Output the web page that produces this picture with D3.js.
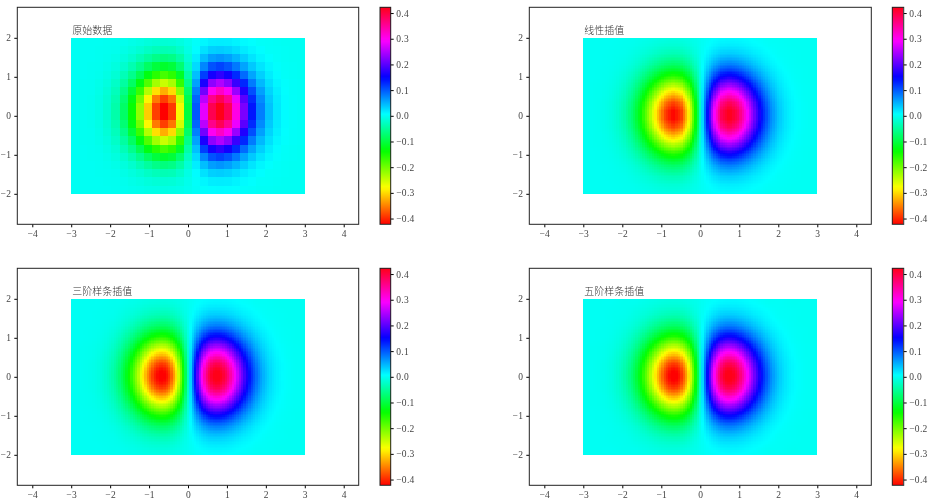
<!DOCTYPE html>
<html>
<head>
<meta charset="utf-8">
<script src="https://cdn.jsdelivr.net/npm/d3@7"></script>
<style>
  html, body { margin: 0; background: #fff; }
  #wrap { position: relative; width: 932px; height: 501px; overflow: hidden; }
  canvas, svg { position: absolute; left: 0; top: 0; }
  .tick text { font-family: "Liberation Serif", serif; font-size: 9.5px; fill: #444; letter-spacing: 0.3px; }
</style>
</head>
<body>
<div id="wrap"><canvas id="cv" width="932" height="501"></canvas><svg id="chart" width="932" height="501"></svg></div>
<script>
const width = 932;
const height = 501;

// Panel titles and the order of the interpolation used for each (0 = raw cells)
const panelTitles = ["原始数据", "线性插值", "三阶样条插值", "五阶样条插值"];
const panelOrders = [0, 1, 3, 5];

const xTicks = [-4, -3, -2, -1, 0, 1, 2, 3, 4];
const yTicks = [-2, -1, 0, 1, 2];
const barTicks = [-0.4, -0.3, -0.2, -0.1, 0, 0.1, 0.2, 0.3, 0.4];

// Grid nodes of the raw data: 30 columns, 20 rows
const xNodes = d3.range(30).map(i => -3 + i * 6 / 29);
const yNodes = d3.range(20).map(j => -2 + j * 4 / 19);

// Raw values, rows from y=-2 up to y=2
const zRaw = [
  [0,0,0,0,0,-.001,-.001,-.003,-.004,-.006,-.007,-.008,-.007,-.005,-.002,.002,.005,.007,.008,.007,.006,.004,.003,.001,.001,0,0,0,0,0],
  [0,0,0,0,-.001,-.002,-.003,-.006,-.009,-.013,-.016,-.017,-.016,-.011,-.004,.004,.011,.016,.017,.016,.013,.009,.006,.003,.002,.001,0,0,0,0],
  [0,0,0,-.001,-.002,-.003,-.007,-.012,-.018,-.026,-.032,-.035,-.033,-.023,-.008,.008,.023,.033,.035,.032,.026,.018,.012,.007,.003,.002,.001,0,0,0],
  [0,0,0,-.001,-.003,-.006,-.012,-.021,-.034,-.048,-.060,-.066,-.061,-.043,-.016,.016,.043,.061,.066,.060,.048,.034,.021,.012,.006,.003,.001,0,0,0],
  [0,0,-.001,-.002,-.005,-.011,-.021,-.037,-.058,-.082,-.102,-.112,-.104,-.074,-.027,.027,.074,.104,.112,.102,.082,.058,.037,.021,.011,.005,.002,.001,0,0],
  [0,0,-.001,-.003,-.008,-.017,-.033,-.057,-.090,-.127,-.159,-.175,-.161,-.115,-.042,.042,.115,.161,.175,.159,.127,.090,.057,.033,.017,.008,.003,.001,0,0],
  [0,-.001,-.002,-.005,-.011,-.024,-.046,-.081,-.128,-.181,-.227,-.249,-.230,-.164,-.059,.059,.164,.230,.249,.227,.181,.128,.081,.046,.024,.011,.005,.002,.001,0],
  [0,-.001,-.002,-.006,-.015,-.031,-.060,-.106,-.167,-.236,-.297,-.325,-.300,-.214,-.078,.078,.214,.300,.325,.297,.236,.167,.106,.060,.031,.015,.006,.002,.001,0],
  [0,-.001,-.003,-.008,-.018,-.037,-.072,-.126,-.200,-.282,-.354,-.388,-.358,-.255,-.093,.093,.255,.358,.388,.354,.282,.200,.126,.072,.037,.018,.008,.003,.001,0],
  [0,-.001,-.003,-.008,-.019,-.041,-.079,-.138,-.218,-.308,-.387,-.424,-.391,-.279,-.101,.101,.279,.391,.424,.387,.308,.218,.138,.079,.041,.019,.008,.003,.001,0],
  [0,-.001,-.003,-.008,-.019,-.041,-.079,-.138,-.218,-.308,-.387,-.424,-.391,-.279,-.101,.101,.279,.391,.424,.387,.308,.218,.138,.079,.041,.019,.008,.003,.001,0],
  [0,-.001,-.003,-.008,-.018,-.037,-.072,-.126,-.200,-.282,-.354,-.388,-.358,-.255,-.093,.093,.255,.358,.388,.354,.282,.200,.126,.072,.037,.018,.008,.003,.001,0],
  [0,-.001,-.002,-.006,-.015,-.031,-.060,-.106,-.167,-.236,-.297,-.325,-.300,-.214,-.078,.078,.214,.300,.325,.297,.236,.167,.106,.060,.031,.015,.006,.002,.001,0],
  [0,-.001,-.002,-.005,-.011,-.024,-.046,-.081,-.128,-.181,-.227,-.249,-.230,-.164,-.059,.059,.164,.230,.249,.227,.181,.128,.081,.046,.024,.011,.005,.002,.001,0],
  [0,0,-.001,-.003,-.008,-.017,-.033,-.057,-.090,-.127,-.159,-.175,-.161,-.115,-.042,.042,.115,.161,.175,.159,.127,.090,.057,.033,.017,.008,.003,.001,0,0],
  [0,0,-.001,-.002,-.005,-.011,-.021,-.037,-.058,-.082,-.102,-.112,-.104,-.074,-.027,.027,.074,.104,.112,.102,.082,.058,.037,.021,.011,.005,.002,.001,0,0],
  [0,0,0,-.001,-.003,-.006,-.012,-.021,-.034,-.048,-.060,-.066,-.061,-.043,-.016,.016,.043,.061,.066,.060,.048,.034,.021,.012,.006,.003,.001,0,0,0],
  [0,0,0,-.001,-.002,-.003,-.007,-.012,-.018,-.026,-.032,-.035,-.033,-.023,-.008,.008,.023,.033,.035,.032,.026,.018,.012,.007,.003,.002,.001,0,0,0],
  [0,0,0,0,-.001,-.002,-.003,-.006,-.009,-.013,-.016,-.017,-.016,-.011,-.004,.004,.011,.016,.017,.016,.013,.009,.006,.003,.002,.001,0,0,0,0],
  [0,0,0,0,0,-.001,-.001,-.003,-.004,-.006,-.007,-.008,-.007,-.005,-.002,.002,.005,.007,.008,.007,.006,.004,.003,.001,.001,0,0,0,0,0]
];

// hsv colormap stops
const hsvStops = [0, .1587, .1746, .3333, .3492, .5079, .6667, .6825, .8413, .8571, 1];
const hsvColors = ["#ff0000", "#fff000", "#f7ff00", "#08ff00", "#00ff10", "#00ffff", "#0010ff", "#0800ff", "#f700ff", "#ff00f0", "#ff0018"];
const zMax = 0.4224;
const color = d3.scaleLinear()
    .domain(hsvStops.map(t => -zMax + t * 2 * zMax))
    .range(hsvColors)
    .clamp(true);

const svg = d3.select("#chart");
const ctx = document.getElementById("cv").getContext("2d");

// Lagrange weights through order+1 neighbouring nodes of a uniform grid
function weights(nodes, v, order) {
    const step = nodes[1] - nodes[0];
    const n = order + 1;
    const first = Math.max(0, Math.min(nodes.length - n, Math.floor((v - nodes[0]) / step) - (n / 2 - 1)));
    const idx = d3.range(n).map(i => first + i);
    const w = idx.map(i => {
        let p = 1;
        idx.forEach(m => { if (m !== i) p *= (v - nodes[m]) / (nodes[i] - nodes[m]); });
        return p;
    });
    return { idx, w };
}

function interpolated(x, y, order) {
    const wx = weights(xNodes, x, order);
    const wy = weights(yNodes, y, order);
    let sum = 0;
    wy.idx.forEach((j, b) => {
        wx.idx.forEach((i, a) => { sum += wy.w[b] * wx.w[a] * zRaw[j][i]; });
    });
    return sum;
}

function drawCells(xs, ys, xScale, yScale, value) {
    for (let j = 0; j < ys.length - 1; j++) {
        const y0 = Math.round(yScale(ys[j + 1]));
        const y1 = Math.round(yScale(ys[j]));
        for (let i = 0; i < xs.length - 1; i++) {
            const x0 = Math.round(xScale(xs[i]));
            const x1 = Math.round(xScale(xs[i + 1]));
            ctx.fillStyle = color(value(i, j));
            ctx.fillRect(x0, y0, x1 - x0, y1 - y0);
        }
    }
}

panelTitles.forEach((title, p) => {
    const left = p % 2 ? 529.3 : 17.3;
    const top = p < 2 ? 7.3 : 268.3;
    const w = p % 2 ? 342 : 341.4;
    const h = 217;
    const x = d3.scaleLinear().domain([-4.385, 4.385]).range([left, left + w]);
    const y = d3.scaleLinear().domain([-2.782, 2.782]).range([top + h, top]);

    // Image part
    const order = panelOrders[p];
    if (order === 0) {
        drawCells(xNodes, yNodes, x, y, (i, j) => zRaw[j][i]);
    } else {
        const xs = d3.range(100).map(i => -3 + i * 6 / 99);
        const ys = d3.range(100).map(j => -2 + j * 4 / 99);
        drawCells(xs, ys, x, y, (i, j) => interpolated(xs[i], ys[j], order));
    }

    // Axes
    const gx = svg.append("g")
        .attr("transform", `translate(0,${top + h})`)
        .call(d3.axisBottom(x).tickValues(xTicks).tickFormat(d3.format("d")).tickSize(3).tickPadding(3));
    const gy = svg.append("g")
        .attr("transform", `translate(${left},0)`)
        .call(d3.axisLeft(y).tickValues(yTicks).tickFormat(d3.format("d")).tickSize(3).tickPadding(3));
    gx.select(".domain").remove();
    gy.select(".domain").remove();

    svg.append("rect")
        .attr("x", left).attr("y", top)
        .attr("width", w).attr("height", h)
        .attr("fill", "none")
        .attr("stroke", "#222")
        .attr("stroke-width", 1);

    svg.append("text")
        .attr("x", x(-3) + 1)
        .attr("y", y(2) - 3.5)
        .attr("font-family", "Noto Sans CJK SC")
        .attr("font-size", 10)
        .attr("font-weight", 300)
        .attr("fill", "#333")
        .text(title);

    // Colorbar
    const barLeft = p % 2 ? 892.3 : 380;
    const barWidth = p % 2 ? 11.4 : 10.7;
    const bar = d3.scaleLinear().domain([-zMax, zMax]).range([top + h, top]);
    for (let py = Math.round(top); py < Math.round(top + h); py++) {
        ctx.fillStyle = color(bar.invert(py + 0.5));
        ctx.fillRect(Math.round(barLeft), py, Math.round(barWidth), 1);
    }
    const gb = svg.append("g")
        .attr("transform", `translate(${barLeft + barWidth},0)`)
        .call(d3.axisRight(bar).tickValues(barTicks).tickFormat(d3.format(".1f")).tickSize(3).tickPadding(2.5));
    gb.select(".domain").remove();
    svg.append("rect")
        .attr("x", barLeft).attr("y", top)
        .attr("width", barWidth).attr("height", h)
        .attr("fill", "none")
        .attr("stroke", "#222")
        .attr("stroke-width", 1);
});
</script>
</body>
</html>
